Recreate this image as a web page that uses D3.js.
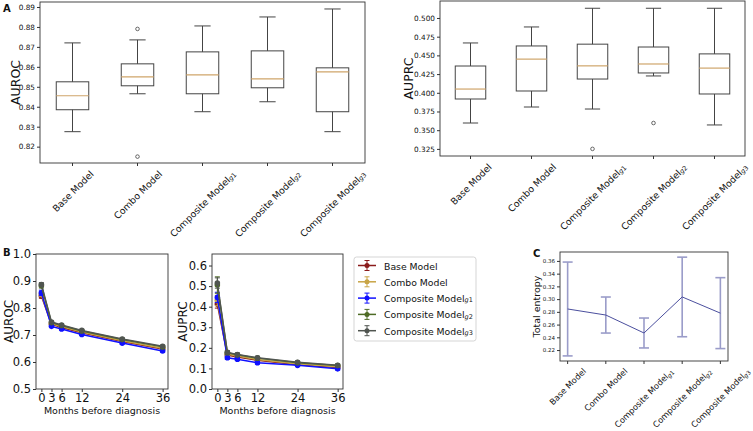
<!DOCTYPE html>
<html><head><meta charset="utf-8">
<script src="https://cdn.jsdelivr.net/npm/d3@7"></script>
<style>body{margin:0;background:#fff}svg{display:block}text{font-family:"DejaVu Sans",sans-serif;fill:#111}</style>
</head><body><svg id="c" width="753" height="431"></svg>
<script>
// ---------- DATA ----------
const modelNames = ["Base Model","Combo Model","Composite Model","Composite Model","Composite Model"];
const modelSubs  = ["","","g1","g2","g3"];
// box stats: [whiskerLow, q1, median, q3, whiskerHigh]
const aurocBoxStats = [
  [0.8275,0.8385,0.8455,0.8525,0.8720],
  [0.8465,0.8505,0.8550,0.8615,0.8735],
  [0.8375,0.8465,0.8560,0.8675,0.8805],
  [0.8425,0.8495,0.8540,0.8680,0.8850],
  [0.8275,0.8375,0.8575,0.8595,0.8890]
];
const aurocFliers = [[],[0.879,0.815],[],[],[]];
const auprcBoxStats = [
  [0.3596,0.3917,0.4050,0.4358,0.4666],
  [0.3810,0.4024,0.4450,0.4626,0.4880],
  [0.3783,0.4184,0.4360,0.4650,0.5130],
  [0.4225,0.4265,0.4385,0.4612,0.5130],
  [0.3570,0.3984,0.4330,0.4520,0.5130]
];
const auprcFliers = [[],[],[0.325],[0.3596],[]];
const aurocTicksA = [0.82,0.83,0.84,0.85,0.86,0.87,0.88,0.89];
const auprcTicksA = [0.325,0.350,0.375,0.400,0.425,0.450,0.475,0.500];

const months = [0,3,6,12,24,36];
const seriesNames = ["Base Model","Combo Model","Composite Model","Composite Model","Composite Model"];
const seriesSubs = ["","","g1","g2","g3"];
const seriesColors = ["#8b1c1c","#c8a445","#1010ff","#4e6b25","#505550"];
const aurocTime = [
  [0.844,0.740,0.728,0.708,0.676,0.648],
  [0.850,0.742,0.731,0.711,0.679,0.651],
  [0.856,0.732,0.722,0.702,0.670,0.641],
  [0.882,0.746,0.735,0.715,0.683,0.656],
  [0.887,0.748,0.737,0.717,0.685,0.658]
];
const aurocTimeErr = [
  [0.008,0.004,0.004,0.004,0.004,0.004],
  [0.008,0.004,0.004,0.004,0.004,0.004],
  [0.010,0.004,0.004,0.004,0.004,0.004],
  [0.008,0.004,0.004,0.004,0.004,0.004],
  [0.007,0.004,0.004,0.004,0.004,0.004]
];
const auprcTime = [
  [0.413,0.165,0.156,0.140,0.118,0.105],
  [0.430,0.170,0.160,0.143,0.122,0.108],
  [0.445,0.152,0.145,0.128,0.115,0.098],
  [0.505,0.176,0.166,0.150,0.128,0.114],
  [0.515,0.178,0.168,0.152,0.130,0.115]
];
const auprcTimeErr = [
  [0.020,0.008,0.007,0.007,0.006,0.006],
  [0.025,0.008,0.007,0.007,0.006,0.006],
  [0.025,0.008,0.007,0.007,0.006,0.006],
  [0.040,0.008,0.007,0.007,0.006,0.006],
  [0.025,0.008,0.007,0.007,0.006,0.006]
];
const aurocTicksB = [0.5,0.6,0.7,0.8,0.9,1.0];
const auprcTicksB = [0.0,0.1,0.2,0.3,0.4,0.5,0.6];

const entropyMean = [0.2845,0.2750,0.2468,0.3034,0.2780];
const entropyErr  = [0.0737,0.0283,0.0235,0.0625,0.0557];
const entropyTicks = [0.22,0.24,0.26,0.28,0.30,0.32,0.34,0.36];

// ---------- DRAW ----------
const svg = d3.select("#c");
const AX = "#333";

function frame(g, x0, x1, y0, y1){
  g.append("rect").attr("x",x0).attr("y",y0).attr("width",x1-x0).attr("height",y1-y0)
   .attr("fill","none").attr("stroke",AX).attr("stroke-width",0.9);
}
function yAxis(g, y, x0, ticks, fmt, fs){
  const ax = d3.axisLeft(y).tickValues(ticks).tickFormat(d3.format(fmt)).tickSize(3).tickPadding(2);
  const a = g.append("g").attr("transform",`translate(${x0},0)`).call(ax);
  a.select(".domain").remove();
  a.selectAll("line").attr("stroke",AX);
  a.selectAll("text").attr("font-size",fs).attr("font-family","DejaVu Sans").attr("fill","#111");
}
function labelWithSub(sel, name, sub, fs){
  sel.append("tspan").text(name);
  if(sub){
    sel.append("tspan").attr("font-size",fs*0.7).attr("dy",fs*0.25).attr("font-style","italic").text(sub[0]);
    sel.append("tspan").attr("font-size",fs*0.7).text(sub.slice(1));
  }
}
function rotatedLabels(g, xs, y1, fs, pad){
  modelNames.forEach((n,i)=>{
    const gg = g.append("g");
    const t = gg.append("text").attr("text-anchor","middle").attr("dominant-baseline","central")
      .attr("font-size",fs).attr("transform","rotate(-45)");
    labelWithSub(t, n, modelSubs[i], fs);
    const bb = t.node().getBBox();
    const hh = (bb.width + bb.height)*Math.SQRT1_2/2;
    gg.attr("transform",`translate(${xs(i)},${y1+pad+hh})`);
  });
}
function xTickMarks(g, xs, y1){
  modelNames.forEach((n,i)=>{
    g.append("line").attr("x1",xs(i)).attr("x2",xs(i)).attr("y1",y1).attr("y2",y1+3).attr("stroke",AX);
  });
}

function boxPanel(cfg){
  const g = svg.append("g");
  const x = d3.scaleLinear().domain([0.5,5.5]).range([cfg.x0,cfg.x1]);
  const y = d3.scaleLinear().domain(cfg.yd).range([cfg.y1,cfg.y0]);
  const step = x(2)-x(1), bw = step*0.5, cw = bw*0.5;
  cfg.stats.forEach((s,i)=>{
    const cx = x(i+1);
    const st = "#444";
    g.append("line").attr("x1",cx).attr("x2",cx).attr("y1",y(s[0])).attr("y2",y(s[1])).attr("stroke",st);
    g.append("line").attr("x1",cx).attr("x2",cx).attr("y1",y(s[3])).attr("y2",y(s[4])).attr("stroke",st);
    g.append("line").attr("x1",cx-cw/2).attr("x2",cx+cw/2).attr("y1",y(s[0])).attr("y2",y(s[0])).attr("stroke",st);
    g.append("line").attr("x1",cx-cw/2).attr("x2",cx+cw/2).attr("y1",y(s[4])).attr("y2",y(s[4])).attr("stroke",st);
    g.append("rect").attr("x",cx-bw/2).attr("width",bw).attr("y",y(s[3])).attr("height",y(s[1])-y(s[3]))
      .attr("fill","none").attr("stroke",st);
    g.append("line").attr("x1",cx-bw/2).attr("x2",cx+bw/2).attr("y1",y(s[2])).attr("y2",y(s[2]))
      .attr("stroke","#cfa56a").attr("stroke-width",1.2);
    cfg.fliers[i].forEach(f=>{
      g.append("circle").attr("cx",cx).attr("cy",y(f)).attr("r",1.8).attr("fill","none").attr("stroke","#444").attr("stroke-width",0.8);
    });
  });
  frame(g,cfg.x0,cfg.x1,cfg.y0,cfg.y1);
  yAxis(g,y,cfg.x0,cfg.ticks,cfg.fmt,7.3);
  const xs = i=>x(i+1);
  xTickMarks(g,xs,cfg.y1);
  rotatedLabels(g,xs,cfg.y1,9.3,5);
  g.append("text").attr("transform",`translate(${cfg.ylx},${(cfg.y0+cfg.y1)/2}) rotate(-90)`)
    .attr("text-anchor","middle").attr("font-size",12.5).text(cfg.ylabel);
}

boxPanel({x0:40,x1:365,y0:2,y1:163,yd:[0.8118,0.8925],stats:aurocBoxStats,fliers:aurocFliers,
  ticks:aurocTicksA,fmt:".2f",ylabel:"AUROC",ylx:20});
boxPanel({x0:440,x1:745,y0:1,y1:156,yd:[0.3155,0.5227],stats:auprcBoxStats,fliers:auprcFliers,
  ticks:auprcTicksA,fmt:".3f",ylabel:"AUPRC",ylx:413});

function linePanel(cfg){
  const g = svg.append("g");
  const x = d3.scaleLinear().domain([-1.6,37.6]).range([cfg.x0,cfg.x1]);
  const y = d3.scaleLinear().domain(cfg.yd).range([cfg.y1,cfg.y0]);
  const line = d3.line().x((d,i)=>x(months[i])).y(d=>y(d));
  cfg.vals.forEach((vals,s)=>{
    const col = seriesColors[s];
    const gs = g.append("g");
    vals.forEach((v,i)=>{
      const e = cfg.errs[s][i], cx = x(months[i]);
      gs.append("line").attr("x1",cx).attr("x2",cx).attr("y1",y(v-e)).attr("y2",y(v+e)).attr("stroke",col).attr("stroke-width",1);
      [v-e,v+e].forEach(w=>gs.append("line").attr("x1",cx-2.5).attr("x2",cx+2.5).attr("y1",y(w)).attr("y2",y(w)).attr("stroke",col).attr("stroke-width",1));
    });
    gs.append("path").attr("d",line(vals)).attr("fill","none").attr("stroke",col).attr("stroke-width",1.5);
    gs.selectAll("circle").data(vals).join("circle").attr("cx",(d,i)=>x(months[i])).attr("cy",d=>y(d))
      .attr("r",2.8).attr("fill",col);
  });
  frame(g,cfg.x0,cfg.x1,cfg.y0,cfg.y1);
  yAxis(g,y,cfg.x0,cfg.ticks,".1f",11.5);
  const ax = d3.axisBottom(x).tickValues(months).tickFormat(d3.format("d")).tickSize(3).tickPadding(1.5);
  const a = g.append("g").attr("transform",`translate(0,${cfg.y1})`).call(ax);
  a.select(".domain").remove();
  a.selectAll("line").attr("stroke",AX);
  a.selectAll("text").attr("font-size",11.5).attr("font-family","DejaVu Sans").attr("fill","#111");
  g.append("text").attr("x",(cfg.x0+cfg.x1)/2).attr("y",414).attr("text-anchor","middle").attr("font-size",9.5)
    .text("Months before diagnosis");
  g.append("text").attr("transform",`translate(${cfg.ylx},${(cfg.y0+cfg.y1)/2}) rotate(-90)`)
    .attr("text-anchor","middle").attr("font-size",12).text(cfg.ylabel);
}
linePanel({x0:36,x1:168,y0:254,y1:389,yd:[0.5,1.0],vals:aurocTime,errs:aurocTimeErr,ticks:aurocTicksB,ylabel:"AUROC",ylx:12.5});
linePanel({x0:212,x1:343,y0:254,y1:389,yd:[0,0.656],vals:auprcTime,errs:auprcTimeErr,ticks:auprcTicksB,ylabel:"AUPRC",ylx:187});

// legend
{
  const g = svg.append("g");
  g.append("rect").attr("x",354).attr("y",257).attr("width",122).attr("height",84).attr("rx",2.5)
    .attr("fill","#fff").attr("stroke","#d0d0d0").attr("stroke-width",0.9);
  seriesNames.forEach((n,i)=>{
    const yy = 265.5 + i*16.3, col = seriesColors[i];
    g.append("line").attr("x1",358).attr("x2",376).attr("y1",yy).attr("y2",yy).attr("stroke",col).attr("stroke-width",1.5);
    g.append("line").attr("x1",367).attr("x2",367).attr("y1",yy-5).attr("y2",yy+5).attr("stroke",col);
    [yy-5,yy+5].forEach(w=>g.append("line").attr("x1",364.5).attr("x2",369.5).attr("y1",w).attr("y2",w).attr("stroke",col));
    g.append("circle").attr("cx",367).attr("cy",yy).attr("r",2.5).attr("fill",col);
    const t = g.append("text").attr("x",384).attr("y",yy).attr("dominant-baseline","central").attr("font-size",9.3);
    labelWithSub(t,n,seriesSubs[i],9.3);
  });
}

// panel C
{
  const g = svg.append("g");
  const x0=560,x1=728,y0=252,y1=361;
  const x = d3.scaleLinear().domain([-0.2,4.2]).range([x0,x1]);
  const y = d3.scaleLinear().domain([0.2028,0.374]).range([y1,y0]);
  const ec = "#9a9cc9", lc = "#4b4f9e";
  entropyMean.forEach((m,i)=>{
    const e = entropyErr[i], cx = x(i);
    g.append("line").attr("x1",cx).attr("x2",cx).attr("y1",y(m-e)).attr("y2",y(m+e)).attr("stroke",ec).attr("stroke-width",1.6);
    [m-e,m+e].forEach(w=>g.append("line").attr("x1",cx-5).attr("x2",cx+5).attr("y1",y(w)).attr("y2",y(w)).attr("stroke",ec).attr("stroke-width",1.6));
  });
  g.append("path").attr("d",d3.line().x((d,i)=>x(i)).y(d=>y(d))(entropyMean)).attr("fill","none")
    .attr("stroke",lc).attr("stroke-width",1);
  frame(g,x0,x1,y0,y1);
  yAxis(g,y,x0,entropyTicks,".2f",5.5);
  xTickMarks(g,i=>x(i),y1);
  rotatedLabels(g,i=>x(i),y1,8.3,5);
  g.append("text").attr("transform",`translate(540,${(y0+y1)/2}) rotate(-90)`)
    .attr("text-anchor","middle").attr("font-size",9.5).text("Total entropy");
}

// panel letters
svg.append("text").attr("x",3).attr("y",12).attr("font-size",10).attr("font-weight","bold").text("A");
svg.append("text").attr("x",3).attr("y",256).attr("font-size",10).attr("font-weight","bold").text("B");
svg.append("text").attr("x",533).attr("y",257).attr("font-size",10).attr("font-weight","bold").text("C");
</script></body></html>
